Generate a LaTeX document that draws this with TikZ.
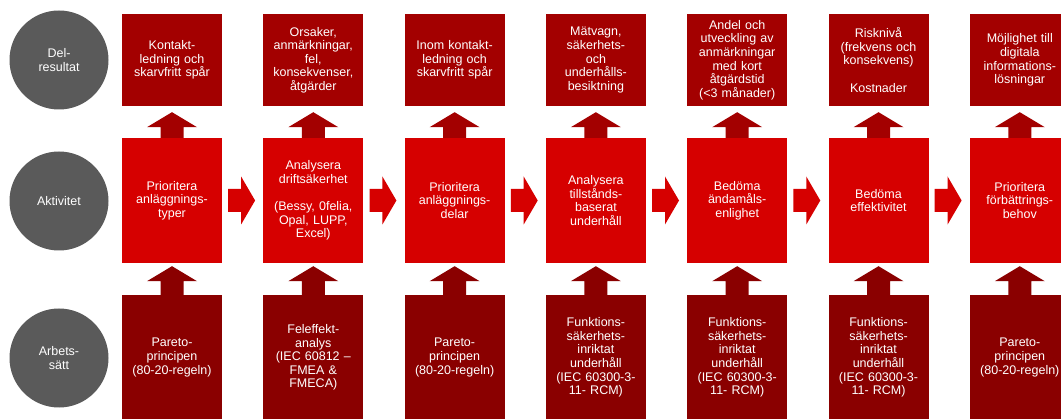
\documentclass[tikz,border=0pt]{standalone}
\usepackage{fontspec}
\setmainfont{Liberation Sans}
\usetikzlibrary{calc}

\definecolor{resred}{HTML}{A30000}
\definecolor{actred}{HTML}{D60000}
\definecolor{wayred}{HTML}{8A0000}
\definecolor{circgray}{HTML}{5A5A5A}

% upward block arrow: colour, lower node, upper node, gap below the upper node
\newcommand\blockup[4]{%
  \fill[#1] let \p1=(#2.north), \p2=(#3.south) in
    (\x1-11.5pt,\y1) -- (\x1-11.5pt,\y2-#4-15pt) -- (\x1-25pt,\y2-#4-15pt)
    -- (\x1,\y2-#4) -- (\x1+25pt,\y2-#4-15pt) -- (\x1+11.5pt,\y2-#4-15pt)
    -- (\x1+11.5pt,\y1) -- cycle;}
% rightward block arrow between two activity boxes
\newcommand\blockright[3]{%
  \fill[#1] let \p1=(#2.east), \p2=(#3.west) in
    (\x1+6pt,\y1-11.5pt) -- (\x2-22pt,\y1-11.5pt) -- (\x2-22pt,\y1-24pt)
    -- (\x2-8pt,\y1) -- (\x2-22pt,\y1+24pt) -- (\x2-22pt,\y1+11.5pt)
    -- (\x1+6pt,\y1+11.5pt) -- cycle;}

\tikzset{
  lbl/.style={text=white, align=center, font=\fontsize{12.5}{13.6}\selectfont},
  rowcirc/.style={lbl, circle, fill=circgray, minimum size=99pt, inner sep=0pt},
  box/.style={lbl, rectangle, minimum width=100pt, text width=98pt, inner sep=1pt},
  resbox/.style={box, fill=resred, minimum height=92pt},
  actbox/.style={box, fill=actred, minimum height=125pt},
  waybox/.style={box, fill=wayred, minimum height=125pt},
}

\begin{document}
\begin{tikzpicture}[x=1pt,y=1pt]
\useasboundingbox (0,0) rectangle (1061,418);
\clip (0,0) rectangle (1061,418);
\fill[white] (0,0) rectangle (1061,418);

% row labels
\node[rowcirc] (cres) at (59,358) {Del-\\resultat};
\node[rowcirc] (cact) at (59,217) {Aktivitet};
\node[rowcirc] (cway) at (59,60) {Arbets-\\sätt};

% sub-results
\node[resbox] (r1) at (172,358)   {Kontakt-\\ledning och\\skarvfritt spår};
\node[resbox] (r2) at (313.3,358) {Orsaker,\\anmärkningar,\\fel,\\konsekvenser,\\åtgärder};
\node[resbox] (r3) at (454.6,358) {Inom kontakt-\\ledning och\\skarvfritt spår};
\node[resbox] (r4) at (595.9,358) {Mätvagn,\\säkerhets-\\och\\underhålls-\\besiktning};
\node[resbox] (r5) at (737.2,358) {Andel och\\utveckling av\\anmärkningar\\med kort\\åtgärdstid\\(<3 månader)};
\node[resbox] (r6) at (878.5,358) {Risknivå\\(frekvens och\\konsekvens)\\[13.6pt]Kostnader};
\node[resbox] (r7) at (1019.8,358) {Möjlighet till\\digitala\\informations-\\lösningar};

% activities
\node[actbox] (a1) at (172,217.5)   {Prioritera\\anläggnings-\\typer};
\node[actbox] (a2) at (313.3,217.5) {Analysera\\driftsäkerhet\\[13.6pt](Bessy, 0felia,\\Opal, LUPP,\\Excel)};
\node[actbox] (a3) at (454.6,217.5) {Prioritera\\anläggnings-\\delar};
\node[actbox] (a4) at (595.9,217.5) {Analysera\\tillstånds-\\baserat\\underhåll};
\node[actbox] (a5) at (737.2,217.5) {Bedöma\\ändamåls-\\enlighet};
\node[actbox] (a6) at (878.5,217.5) {Bedöma\\effektivitet};
\node[actbox] (a7) at (1019.8,217.5) {Prioritera\\förbättrings-\\behov};

% working methods
\node[waybox] (w1) at (172,60.5)   {Pareto-\\principen\\(80-20-regeln)};
\node[waybox] (w2) at (313.3,60.5) {Feleffekt-\\analys\\(IEC 60812 –\\FMEA \&\\FMECA)};
\node[waybox] (w3) at (454.6,60.5) {Pareto-\\principen\\(80-20-regeln)};
\node[waybox] (w4) at (595.9,60.5) {Funktions-\\säkerhets-\\inriktat\\underhåll\\(IEC 60300-3-\\11- RCM)};
\node[waybox] (w5) at (737.2,60.5) {Funktions-\\säkerhets-\\inriktat\\underhåll\\(IEC 60300-3-\\11- RCM)};
\node[waybox] (w6) at (878.5,60.5) {Funktions-\\säkerhets-\\inriktat\\underhåll\\(IEC 60300-3-\\11- RCM)};
\node[waybox] (w7) at (1019.8,60.5) {Pareto-\\principen\\(80-20-regeln)};

% arrows
\foreach \i in {1,...,7}{
  \blockup{resred}{a\i}{r\i}{6pt}
  \blockup{wayred}{w\i}{a\i}{3pt}
}
\foreach \i/\j in {1/2,2/3,3/4,4/5,5/6,6/7}{
  \blockright{actred}{a\i}{a\j}
}
\end{tikzpicture}
\end{document}
